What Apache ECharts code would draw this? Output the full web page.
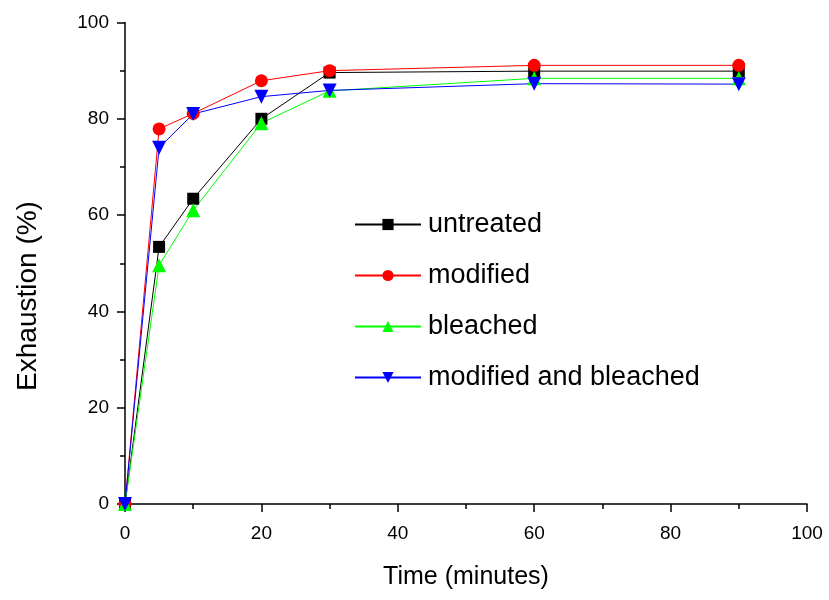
<!DOCTYPE html>
<html>
<head>
<meta charset="utf-8">
<script src="https://cdn.jsdelivr.net/npm/echarts@6/dist/echarts.min.js"></script>
<style>html,body{margin:0;padding:0;background:#fff;}#c{width:829px;height:600px;}</style>
</head>
<body>
<div id="c"></div>
<script>
const time = [0, 5, 10, 20, 30, 60, 90];
const untreated = [0, 53.4, 63.4, 80.0, 89.6, 89.9, 89.9];
const modified = [0, 77.9, 81.1, 87.9, 90.0, 91.1, 91.1];
const bleached = [0, 49.6, 61.0, 79.1, 85.8, 88.4, 88.4];
const modBleached = [0, 74.0, 81.0, 84.6, 85.9, 87.3, 87.2];
const seriesNames = ['untreated', 'modified', 'bleached', 'modified and bleached'];
const xTitle = 'Time (minutes)';
const yTitle = 'Exhaustion (%)';

const font = 'Liberation Sans, Arial, sans-serif';
function pairs(v) { return time.map((t, i) => [t, v[i]]); }
function mk(name, data, color, symbol, size, rot) {
  return {
    name, type: 'line', data: pairs(data),
    symbol, symbolSize: size, symbolRotate: rot || 0,
    lineStyle: { color, width: 1 },
    itemStyle: { color },
    clip: false, animation: false
  };
}
const chart = echarts.init(document.getElementById('c'), null, { renderer: 'canvas' });
const axisCommon = {
  min: 0, max: 100, interval: 20,
  axisLine: { show: true, lineStyle: { color: '#000', width: 1.5 } },
  axisTick: { show: true, inside: false, length: 8, lineStyle: { color: '#000', width: 1.5 } },
  minorTick: { show: true, splitNumber: 2, length: 5, lineStyle: { color: '#000', width: 1.5 } },
  splitLine: { show: false },
  axisLabel: { color: '#000', fontSize: 19, fontFamily: font }
};
chart.setOption({
  backgroundColor: '#fff',
  grid: { left: 125, right: 22, top: 22.5, bottom: 96, containLabel: false },
  xAxis: Object.assign({}, axisCommon, {
    type: 'value',
    name: xTitle, nameLocation: 'middle', nameGap: 61,
    nameTextStyle: { color: '#000', fontSize: 25, fontFamily: font },
    axisLabel: Object.assign({}, axisCommon.axisLabel, { margin: 20 })
  }),
  yAxis: Object.assign({}, axisCommon, {
    type: 'value',
    axisLabel: Object.assign({}, axisCommon.axisLabel, { margin: 16 })
  }),
  legend: {
    orient: 'vertical', left: 349, top: 206,
    itemWidth: 66, itemHeight: 14, itemGap: 24,
    data: seriesNames,
    textStyle: { color: '#000', fontSize: 27, fontFamily: font, padding: [0, 0, 0, 2] }
  },
  graphic: [{
    type: 'text',
    style: { text: yTitle, fill: '#000', font: '28px ' + font, align: 'center', verticalAlign: 'middle' },
    x: 28, y: 296, rotation: Math.PI / 2
  }],
  series: [
    mk(seriesNames[0], untreated, '#000000', 'rect', 12),
    mk(seriesNames[1], modified, '#ff0000', 'circle', 13),
    mk(seriesNames[2], bleached, '#00ff00', 'triangle', 14),
    mk(seriesNames[3], modBleached, '#0000ff', 'triangle', 14, 180)
  ]
});
</script>
</body>
</html>
